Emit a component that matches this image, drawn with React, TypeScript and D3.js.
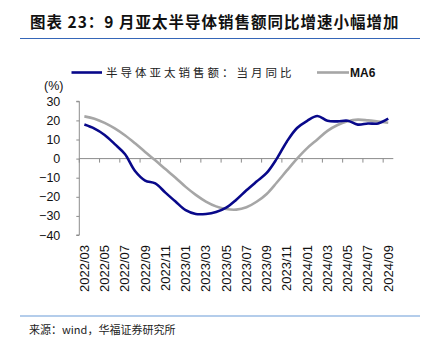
import { useEffect, useRef } from "react";
import * as d3 from "d3";

const MONTHS = [
  "2022/03", "2022/04", "2022/05", "2022/06", "2022/07", "2022/08", "2022/09", "2022/10",
  "2022/11", "2022/12", "2023/01", "2023/02", "2023/03", "2023/04", "2023/05", "2023/06",
  "2023/07", "2023/08", "2023/09", "2023/10", "2023/11", "2023/12", "2024/01", "2024/02",
  "2024/03", "2024/04", "2024/05", "2024/06", "2024/07", "2024/08", "2024/09",
];

// 半导体亚太销售额：当月同比 (%)
const YOY = [
  17.8, 15.7, 12.4, 7.6, 2.4, -6.5, -11.5, -13.0, -17.8, -22.5, -27.0, -29.0, -29.0, -28.0, -25.7, -21.5,
  -16.6, -12.0, -7.5, 0.0, 9.0, 16.0, 19.8, 22.3, 19.8, 19.5, 19.8, 17.8, 18.4, 18.4, 20.9,
];

// MA6
const MA6 = [
  22.1, 20.9, 18.7, 15.8, 12.2, 8.0, 3.5, -0.9, -5.5, -10.0, -14.8, -19.0, -22.5, -25.0, -26.4, -26.7,
  -25.5, -22.6, -18.5, -12.5, -6.2, 0.0, 5.5, 10.0, 14.5, 17.6, 19.6, 20.4, 20.0, 19.4, 18.8,
];

const Y_TICKS = [30, 20, 10, 0, -10, -20, -30, -40];

const TITLE = "图表 23：9 月亚太半导体销售额同比增速小幅增加";
const SOURCE = "来源：wind，华福证券研究所";
const LEGEND = ["半导体亚太销售额：当月同比", "MA6"];

const BLUE = "#08088a";
const GRAY = "#a6a6a6";
const AXIS = "#8c8c8c";
const SANS = "'Liberation Sans', Arial, sans-serif";
const CJK = "'Noto Sans CJK SC', sans-serif";

export default function App() {
  const svgRef = useRef<SVGSVGElement>(null);

  useEffect(() => {
    const W = 431, H = 352;
    const svg = d3.select(svgRef.current).attr("viewBox", `0 0 ${W} ${H}`);
    svg.selectAll("*").remove();

    svg.append("rect").attr("width", W).attr("height", H).attr("fill", "#fff");

    // title + rules
    svg.append("text").attr("x", 30).attr("y", 28)
      .attr("font-family", CJK).attr("font-weight", "bold").attr("font-size", 15.5)
      .attr("letter-spacing", 1).attr("fill", "#111").text(TITLE);
    svg.append("line").attr("x1", 20).attr("x2", 420).attr("y1", 38.5).attr("y2", 38.5)
      .attr("stroke", "#3566b8").attr("stroke-width", 1.2);
    svg.append("line").attr("x1", 20).attr("x2", 420).attr("y1", 316).attr("y2", 316)
      .attr("stroke", "#6b9bd8").attr("stroke-width", 1.2);
    svg.append("text").attr("x", 29).attr("y", 334)
      .attr("font-family", CJK).attr("font-size", 11).attr("fill", "#222").text(SOURCE);

    const x = d3.scaleBand().domain(MONTHS).range([79.3, 393.3]).padding(0);
    const cx = (m: string) => (x(m) ?? 0) + x.bandwidth() / 2;
    const y = d3.scaleLinear().domain([-40, 30]).range([235, 101.3]);

    const g = svg.append("g");

    // y axis
    const yAx = g.append("g").attr("transform", `translate(${x.range()[0]},0)`)
      .call(d3.axisLeft(y).tickValues(Y_TICKS).tickSize(3).tickPadding(16).tickFormat(d => d3.format("")(d as number).replace("-", "\u2212")));
    yAx.select(".domain").attr("stroke", AXIS).attr("d", `M-3,${y(30)}H0V${y(-40)}H-3`);
    yAx.selectAll("line").attr("stroke", AXIS);
    yAx.selectAll("text").attr("font-family", SANS).attr("font-size", 12.5).attr("fill", "#111");

    g.append("text").attr("x", 44).attr("y", 89.5)
      .attr("font-family", SANS).attr("font-size", 12.5).attr("fill", "#111").text("(%)");

    // zero line with category ticks
    const y0 = y(0);
    g.append("line").attr("x1", x.range()[0]).attr("x2", x.range()[1]).attr("y1", y0).attr("y2", y0)
      .attr("stroke", AXIS).attr("stroke-width", 1);
    MONTHS.forEach((m, i) => {
      if (i % 2 !== 0) return;
      g.append("line").attr("x1", x(m)!).attr("x2", x(m)!).attr("y1", y0).attr("y2", y0 + 4)
        .attr("stroke", AXIS);
      g.append("text")
        .attr("transform", `translate(${cx(m) + 4.5},245) rotate(-90)`)
        .attr("text-anchor", "end")
        .attr("font-family", SANS).attr("font-size", 13).attr("fill", "#111")
        .text(m);
    });

    // series
    const line = d3.line<number>().x((_, i) => cx(MONTHS[i])).y(d => y(d)).curve(d3.curveCatmullRom);
    g.append("path").datum(MA6).attr("fill", "none").attr("stroke", GRAY)
      .attr("stroke-width", 2.6).attr("d", line);
    g.append("path").datum(YOY).attr("fill", "none").attr("stroke", BLUE)
      .attr("stroke-width", 2.6).attr("d", line);

    // legend
    const lg = svg.append("g");
    lg.append("line").attr("x1", 71.5).attr("x2", 102).attr("y1", 72.5).attr("y2", 72.5)
      .attr("stroke", BLUE).attr("stroke-width", 2.6);
    lg.append("text").attr("x", 106).attr("y", 77)
      .attr("font-family", CJK).attr("font-size", 11.5).attr("letter-spacing", 3)
      .attr("fill", "#222").text(LEGEND[0]);
    lg.append("line").attr("x1", 317).attr("x2", 349).attr("y1", 72.5).attr("y2", 72.5)
      .attr("stroke", GRAY).attr("stroke-width", 2.6);
    lg.append("text").attr("x", 350).attr("y", 77)
      .attr("font-family", SANS).attr("font-size", 12).attr("font-weight", "bold")
      .attr("fill", "#111").text(LEGEND[1]);
  }, []);

  return (
    <div style={{ position: "absolute", left: 0, top: 0, width: 431, height: 352 }}>
      <svg ref={svgRef} width={431} height={352} style={{ display: "block" }} />
    </div>
  );
}
